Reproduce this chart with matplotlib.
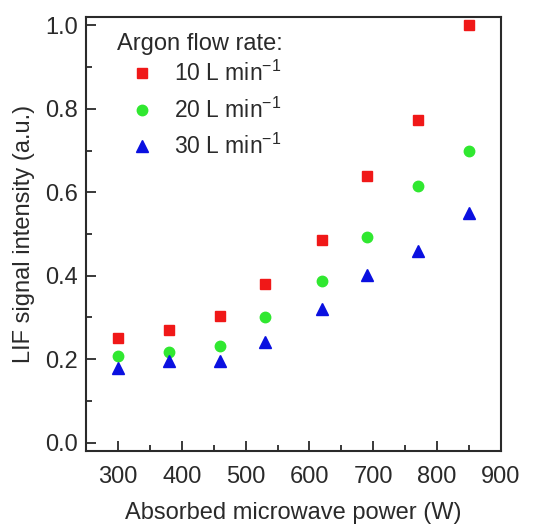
import matplotlib
matplotlib.use("Agg")
import matplotlib.pyplot as plt
from matplotlib.ticker import MultipleLocator

plt.rcParams["font.family"] = "Liberation Sans"
plt.rcParams["mathtext.fontset"] = "custom"
plt.rcParams["mathtext.rm"] = "Liberation Sans"
plt.rcParams["mathtext.it"] = "Liberation Sans"

# Data
power = [300, 380, 460, 530, 620, 690, 770, 850]
flow_labels = ["10 L min$^{-1}$", "20 L min$^{-1}$", "30 L min$^{-1}$"]
lif_10 = [0.251, 0.269, 0.303, 0.381, 0.486, 0.638, 0.774, 1.0]
lif_20 = [0.207, 0.217, 0.232, 0.301, 0.388, 0.494, 0.616, 0.700]
lif_30 = [0.180, 0.195, 0.196, 0.242, 0.320, 0.402, 0.460, 0.550]

txt = "#2a2a2a"

fig = plt.figure(figsize=(5.44, 5.24), dpi=100)
ax = fig.add_axes([86 / 544, 1 - 451 / 524, 415 / 544, 434 / 524])

ax.plot(power, lif_10, ls="none", marker="s", ms=7, color="#f01818", label=flow_labels[0])
ax.plot(power, lif_20, ls="none", marker="o", ms=7.5, color="#30e830", label=flow_labels[1])
ax.plot(power, lif_30, ls="none", marker="^", ms=8.5, color="#0a10e0", label=flow_labels[2])

ax.set_xlim(250, 900)
ax.set_ylim(-0.02, 1.02)
ax.set_xticks([300, 400, 500, 600, 700, 800, 900])
ax.xaxis.set_minor_locator(MultipleLocator(50))
ax.yaxis.set_major_locator(MultipleLocator(0.2))
ax.yaxis.set_minor_locator(MultipleLocator(0.1))
ax.tick_params(which="both", direction="in", labelsize=17, width=1.3,
               color=txt, labelcolor=txt)
ax.tick_params(which="major", length=7)
ax.tick_params(which="minor", length=4)
ax.tick_params(axis="x", pad=11)
ax.tick_params(axis="y", pad=6)
for s in ax.spines.values():
    s.set_linewidth(1.5)
    s.set_color(txt)

ax.set_xlabel("Absorbed microwave power (W)", fontsize=17, labelpad=10, color=txt)
ax.set_ylabel("LIF signal intensity (a.u.)", fontsize=17, labelpad=7, color=txt)

leg = ax.legend(title="Argon flow rate:", loc="upper left", frameon=False,
                fontsize=16.5, title_fontsize=17, handletextpad=0.3,
                borderaxespad=0.0, labelspacing=0.5, handlelength=2.2,
                borderpad=0.3, bbox_to_anchor=(0.058, 0.98))
leg._legend_box.align = "left"
leg._legend_box.sep = 4.5  # tighter gap between title and first entry
for t in leg.get_texts():
    t.set_color(txt)
leg.get_title().set_color(txt)

fig.savefig("out.png", dpi=100)
